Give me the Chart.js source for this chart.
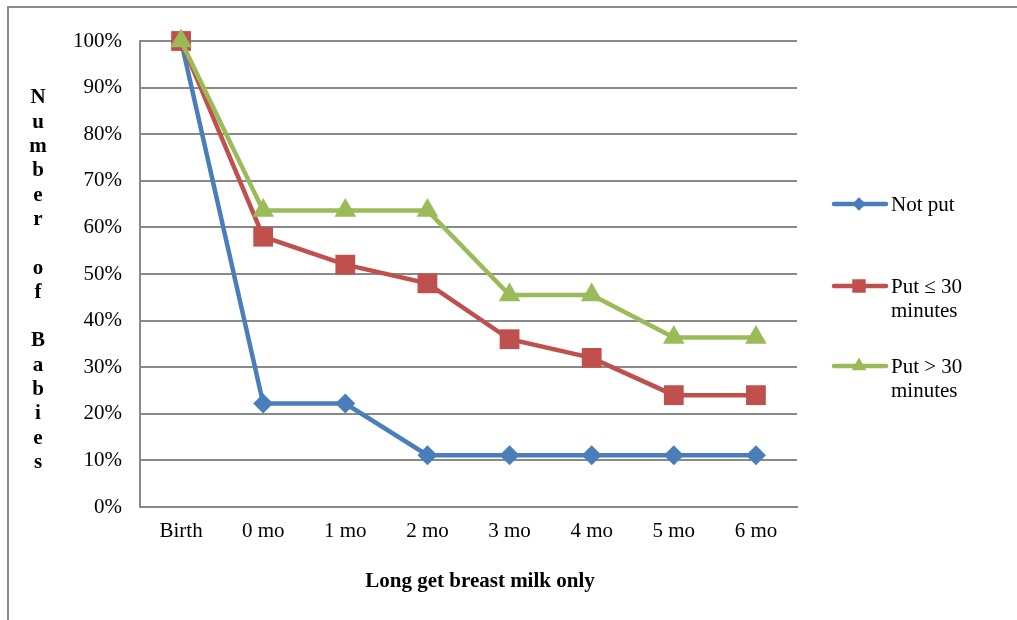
<!DOCTYPE html>
<html lang="en">
<head>
  <meta charset="UTF-8" />
  <title>Exclusive breastfeeding duration</title>
  <script src="https://cdn.jsdelivr.net/npm/chart.js"></script>
  <style>
    body { margin: 0; background: #fff; }
    canvas { display: block; }
  </style>
</head>
<body>
  <canvas id="milkChart" width="1017" height="620"></canvas>
  <script>
    const categories = ["Birth", "0 mo", "1 mo", "2 mo", "3 mo", "4 mo", "5 mo", "6 mo"];
    const notPut = [100, 22.2, 22.2, 11.1, 11.1, 11.1, 11.1, 11.1];
    const putUnder30 = [100, 58, 52, 48, 36, 32, 24, 24];
    const putOver30 = [100, 63.6, 63.6, 63.6, 45.5, 45.5, 36.4, 36.4];
    const seriesNames = ["Not put", ["Put \u2264 30", "minutes"], ["Put > 30", "minutes"]];
    const yTitle = ["N", "u", "m", "b", "e", "r", "", "o", "f", "", "B", "a", "b", "i", "e", "s"];
    const xTitle = "Long get breast milk only";

    const font = "'Liberation Serif', 'Times New Roman', serif";
    const gridColor = "#898989";

    // frame, stacked y title, x title and legend
    const extras = {
      id: "extras",
      beforeDraw(chart) {
        const ctx = chart.ctx;
        ctx.save();
        ctx.strokeStyle = "#8c8c8c";
        ctx.lineWidth = 2;
        ctx.beginPath();
        ctx.moveTo(8, 620);
        ctx.lineTo(8, 7);
        ctx.lineTo(1017, 7);
        ctx.stroke();
        ctx.restore();
      },
      afterDraw(chart) {
        const ctx = chart.ctx;
        ctx.save();
        ctx.fillStyle = "#000";
        ctx.textAlign = "center";
        ctx.textBaseline = "middle";
        ctx.font = "bold 21px " + font;
        yTitle.forEach((ch, i) => ctx.fillText(ch, 38, 98 + i * 24.3));
        ctx.fillText(xTitle, 480, 582);

        const rows = [204, 286, 366];
        ctx.font = "21px " + font;
        ctx.textAlign = "left";
        chart.data.datasets.forEach((ds, i) => {
          const y = rows[i];
          ctx.strokeStyle = ds.borderColor;
          ctx.lineWidth = 4.5;
          ctx.lineCap = "round";
          ctx.beginPath();
          ctx.moveTo(834, y);
          ctx.lineTo(886, y);
          ctx.stroke();
          ctx.fillStyle = ds.backgroundColor;
          ctx.strokeStyle = ds.borderColor;
          Chart.helpers.drawPoint(ctx, { pointStyle: ds.pointStyle, radius: ds.pointRadius * 0.68, rotation: 0, borderWidth: 0 }, 859, y);
          ctx.fillStyle = "#000";
          const lines = [].concat(seriesNames[i]);
          lines.forEach((t, j) => ctx.fillText(t, 891, y + 1 + j * 24));
        });
        ctx.restore();
      }
    };

    const line = (label, data, color, style, radius, order) => ({
      label, data, order,
      borderColor: color,
      backgroundColor: color,
      borderWidth: 4.5,
      pointStyle: style,
      pointRadius: radius,
      pointHoverRadius: radius,
      pointBorderWidth: 0,
      tension: 0,
      clip: false
    });

    new Chart(document.getElementById("milkChart"), {
      type: "line",
      data: {
        labels: categories,
        datasets: [
          line("Not put", notPut, "#4A7EBB", "rectRot", 10, 3),
          line("Put <= 30 minutes", putUnder30, "#C0504D", "rect", 14, 2),
          line("Put > 30 minutes", putOver30, "#9BBB59", "triangle", 12.5, 1)
        ]
      },
      options: {
        responsive: false,
        animation: false,
        layout: { padding: { left: 60, right: 220, top: 41, bottom: 0 } },
        plugins: {
          legend: { display: false },
          tooltip: { enabled: false }
        },
        scales: {
          x: {
            offset: true,
            grid: { display: false, drawTicks: false },
            border: { display: true, color: gridColor, width: 2 },
            ticks: { color: "#000", font: { family: font, size: 21 }, padding: 12, maxRotation: 0 },
            afterFit(scale) { scale.height = 113; }
          },
          y: {
            min: 0,
            max: 100,
            ticks: {
              stepSize: 10,
              color: "#000",
              font: { family: font, size: 21 },
              padding: 18,
              callback: v => v + "%"
            },
            grid: { color: gridColor, lineWidth: 2, drawTicks: false },
            border: { display: true, color: gridColor, width: 2 },
            afterFit(scale) { scale.width = 80; }
          }
        }
      },
      plugins: [extras]
    });
  </script>
</body>
</html>
